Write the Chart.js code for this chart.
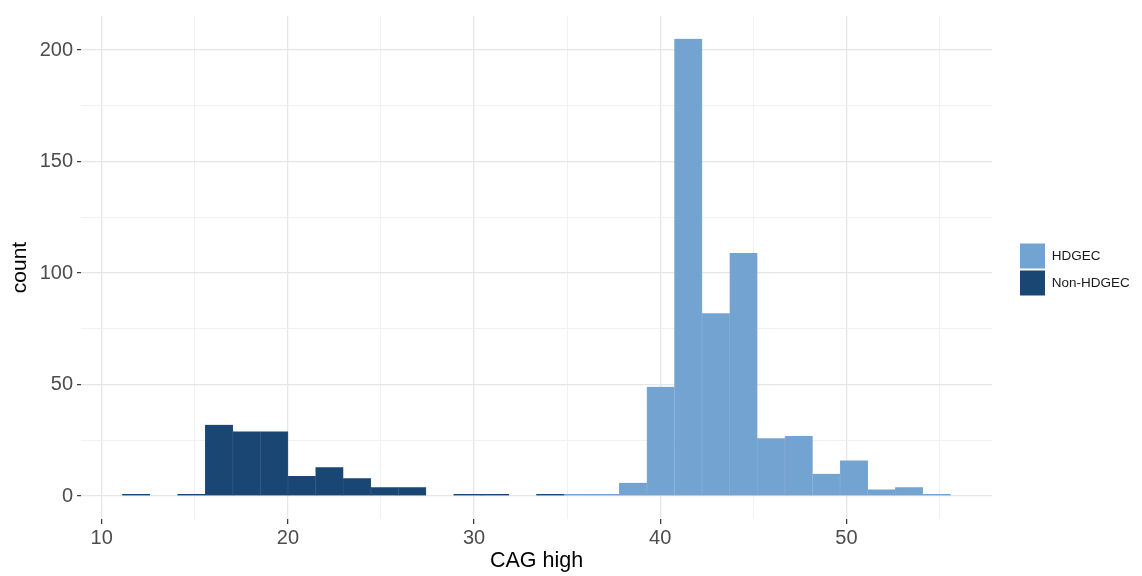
<!DOCTYPE html>
<html>
<head>
<meta charset="utf-8">
<script src="https://cdn.jsdelivr.net/npm/chart.js@4/dist/chart.umd.min.js"></script>
<style>
  html, body { margin: 0; padding: 0; background: #ffffff; }
  #wrap { width: 1142px; height: 576px; position: relative; }
</style>
</head>
<body>
<div id="wrap"><canvas id="c" width="1142" height="576"></canvas></div>
<script>
// ---- data (bin width ~1.483) ----
const binCenters = [11.850, 13.333, 14.816, 16.298, 17.781, 19.264, 20.747, 22.230, 23.712, 25.195,
                    26.678, 28.161, 29.644, 31.126, 32.609, 34.092, 35.575, 37.058, 38.540, 40.023,
                    41.506, 42.989, 44.472, 45.954, 47.437, 48.920, 50.403, 51.886, 53.368, 54.851];
const hdgecCounts    = [0, 0, 0, 0, 0, 0, 0, 0, 0, 0,
                        0, 0, 0, 0, 0, 0, 1, 1, 6, 49,
                        205, 82, 109, 26, 27, 10, 16, 3, 4, 1];
const nonHdgecCounts = [1, 0, 1, 32, 29, 29, 9, 13, 8, 4,
                        4, 0, 1, 1, 0, 1, 0, 0, 0, 0,
                        0, 0, 0, 0, 0, 0, 0, 0, 0, 0];
const seriesNames = ['HDGEC', 'Non-HDGEC'];
const xTickLabels = [10, 20, 30, 40, 50];
const xMinorTicks = [15, 25, 35, 45, 55];
const yTickLabels = [0, 50, 100, 150, 200];
const yMinorTicks = [25, 75, 125, 175];

const FONT = '"Liberation Sans", Arial, Helvetica, sans-serif';
const LIGHT = '#73A3D0';
const DARK = '#1A4673';
const GRID_MAJOR = '#E6E6E6';
const GRID_MINOR = '#F1F1F1';

const legendFix = {
  id: 'legendFix',
  beforeInit(chart) {
    const lg = chart.legend;
    if (!lg) return;
    const origFit = lg.fit;
    lg.fit = function () { origFit.call(this); this.width = 150; };
  },
  afterLayout(chart) {
    const lg = chart.legend;
    if (!lg) return;
    lg.left += 26; lg.right += 26;
    lg.top += 2; lg.bottom += 2;
  }
};

const isMajor = (list) => (ctx) => !!(ctx.tick && list.includes(ctx.tick.value));

new Chart(document.getElementById('c'), {
  type: 'bar',
  data: {
    datasets: [
      {
        label: seriesNames[0],
        data: binCenters.map((x, i) => ({ x: x, y: hdgecCounts[i] })),
        backgroundColor: LIGHT,
        borderColor: '#86B0D8',
        borderWidth: { left: 0.6, right: 0.6, top: 0, bottom: 0 },
        grouped: false,
        barPercentage: 1.0,
        categoryPercentage: 1.0
      },
      {
        label: seriesNames[1],
        data: binCenters.map((x, i) => ({ x: x, y: nonHdgecCounts[i] })),
        backgroundColor: DARK,
        borderColor: '#2F5884',
        borderWidth: { left: 0.6, right: 0.6, top: 0, bottom: 0 },
        grouped: false,
        barPercentage: 1.0,
        categoryPercentage: 1.0
      }
    ]
  },
  options: {
    responsive: false,
    animation: false,
    devicePixelRatio: 1,
    layout: { padding: { top: 14, left: 0, right: 0, bottom: 0 } },
    plugins: {
      tooltip: { enabled: false },
      legend: {
        position: 'right',
        fullSize: false,
        align: 'center',
        labels: {
          boxWidth: 25,
          boxHeight: 25,
          padding: 2,
          color: '#1A1A1A',
          font: { family: FONT, size: 13.5 },
          generateLabels(chart) {
            const items = Chart.defaults.plugins.legend.labels.generateLabels(chart);
            items.forEach(it => { it.lineWidth = 0; it.strokeStyle = 'rgba(0,0,0,0)'; });
            return items;
          }
        }
      }
    },
    scales: {
      x: {
        type: 'linear',
        min: 8.886,
        max: 57.82,
        offset: false,
        border: { display: false },
        afterBuildTicks: (scale) => {
          scale.ticks = xTickLabels.concat(xMinorTicks).sort((a, b) => a - b).map(v => ({ value: v }));
        },
        grid: {
          offset: false,
          color: (ctx) => isMajor(xTickLabels)(ctx) ? GRID_MAJOR : GRID_MINOR,
          lineWidth: (ctx) => isMajor(xTickLabels)(ctx) ? 1.3 : 1,
          drawTicks: true,
          tickLength: 5,
          tickWidth: 1.2,
          tickColor: (ctx) => isMajor(xTickLabels)(ctx) ? '#333333' : 'rgba(0,0,0,0)'
        },
        ticks: {
          autoSkip: false,
          maxRotation: 0,
          padding: 2,
          color: '#4D4D4D',
          font: { family: FONT, size: 20 },
          callback: (v) => xTickLabels.includes(v) ? String(v) : ''
        },
        title: {
          display: true,
          text: 'CAG high',
          color: '#000000',
          font: { family: FONT, size: 21.5 },
          padding: { top: 0, bottom: 2 }
        },
        afterFit: (scale) => { scale.height = 57; }
      },
      y: {
        type: 'linear',
        min: -10.25,
        max: 215.25,
        border: { display: false },
        afterBuildTicks: (scale) => {
          scale.ticks = yTickLabels.concat(yMinorTicks).sort((a, b) => a - b).map(v => ({ value: v }));
        },
        grid: {
          color: (ctx) => isMajor(yTickLabels)(ctx) ? GRID_MAJOR : GRID_MINOR,
          lineWidth: (ctx) => isMajor(yTickLabels)(ctx) ? 1.3 : 1,
          drawTicks: true,
          tickLength: 4,
          tickWidth: 1.2,
          tickColor: (ctx) => isMajor(yTickLabels)(ctx) ? '#333333' : 'rgba(0,0,0,0)'
        },
        ticks: {
          autoSkip: false,
          padding: 4,
          color: '#4D4D4D',
          font: { family: FONT, size: 20 },
          callback: (v) => yTickLabels.includes(v) ? String(v) : ''
        },
        title: {
          display: true,
          text: 'count',
          color: '#000000',
          font: { family: FONT, size: 21 },
          padding: { top: 8, bottom: 0 }
        },
        afterFit: (scale) => { scale.width = 81; }
      }
    }
  },
  plugins: [legendFix]
});
</script>
</body>
</html>
